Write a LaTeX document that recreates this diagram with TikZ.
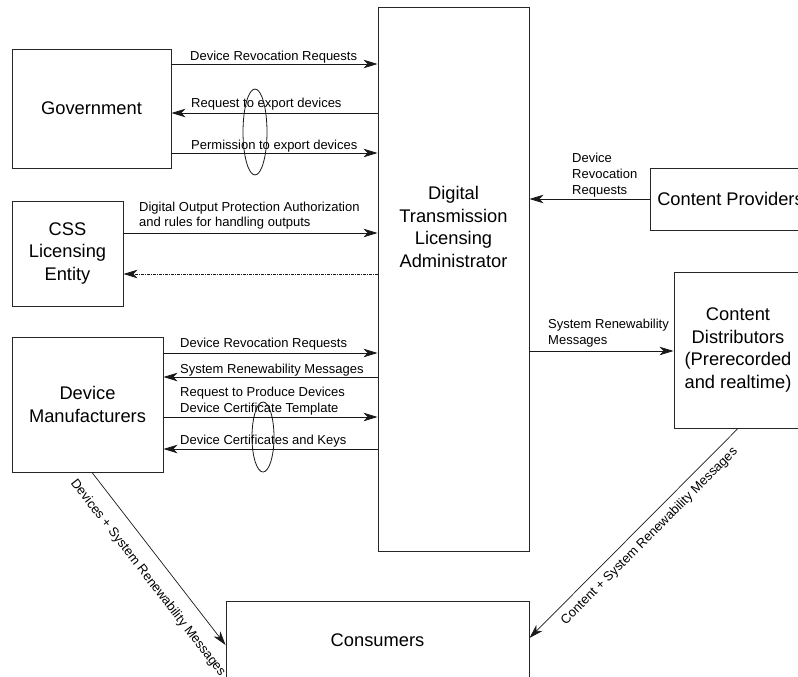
\documentclass[tikz,border=0pt]{standalone}
\usepackage{fontspec}
\setmainfont{Liberation Sans}
\usetikzlibrary{arrows.meta}
\newcommand\boxfont{\fontsize{18.3}{22.5}\selectfont}
\newcommand\lblfont{\fontsize{13}{15.75}\selectfont}
\tikzset{
  box/.style={draw=black!85, line width=0.9pt, align=center, font=\boxfont, inner sep=0pt},
  lbl/.style={font=\lblfont, inner sep=0pt, align=left},
  arr/.style={draw=black!90, line width=0.8pt, -{Stealth[length=14pt,width=8.5pt,inset=4pt]}},
  dotarr/.style={arr, dash pattern=on 3pt off 1pt on 1pt off 1pt},
  grp/.style={draw=black!90, line width=0.8pt},
}
\begin{document}
\begin{tikzpicture}[x=1pt,y=-1pt]
\useasboundingbox (0,0) rectangle (798,677);
\clip (0,0) rectangle (798,677);
% boxes
\node[box, minimum width=159pt, minimum height=119pt] (gov) at (91.5,108.5) {Government};
\node[box, minimum width=111pt, minimum height=105pt] (css) at (67.5,253.5) {CSS\\Licensing\\Entity};
\node[box, minimum width=151pt, minimum height=135pt] (devman) at (87.5,404.5) {Device\\Manufacturers};
\node[box, minimum width=151pt, minimum height=544pt] (dtla) at (453.5,279) {};
\node[font=\boxfont, align=center, inner sep=0pt] (dtlatxt) at (453.5,227) {Digital\\Transmission\\Licensing\\Administrator};
\node[box, minimum width=161pt, minimum height=62pt] (cp) at (730.5,199) {Content Providers};
\node[box, minimum width=128pt, minimum height=156pt] (cdist) at (738,350) {Content\\Distributors\\(Prerecorded\\and realtime)};
\node[box, minimum width=303pt, minimum height=78pt] (cons) at (377.5,640) {Consumers};

% Government arrows
\draw[arr] (gov.east |- 0,64) -- (dtla.west |- 0,64);
\node[lbl, anchor=base west] (l1) at (190,60) {Device Revocation Requests};
\draw[arr] (dtla.west |- 0,113) -- (gov.east |- 0,113);
\node[lbl, anchor=base west] (l2) at (191,107) {Request to export devices};
\draw[arr] (gov.east |- 0,153) -- (dtla.west |- 0,153);
\node[lbl, anchor=base west] (l3) at (191,149.5) {Permission to export devices};
\draw[grp] (255,132) ellipse [x radius=12pt, y radius=43pt];

% CSS arrows
\draw[arr] (css.east |- 0,233) -- (dtla.west |- 0,233);
\node[lbl, anchor=north west, font=\fontsize{13}{15}\selectfont] (l4) at (139,201.5) {Digital Output Protection Authorization\\and rules for handling outputs};
\draw[dotarr] (dtla.west |- 0,274) -- (css.east |- 0,274);

% Device manufacturers arrows
\draw[arr] (devman.east |- 0,353) -- (dtla.west |- 0,353);
\node[lbl, anchor=base west] (l5) at (180,347.5) {Device Revocation Requests};
\draw[arr] (dtla.west |- 0,377) -- (devman.east |- 0,377);
\node[lbl, anchor=base west] (l6) at (180,373) {System Renewability Messages};
\draw[arr] (devman.east |- 0,417) -- (dtla.west |- 0,417);
\node[lbl, anchor=north west, font=\fontsize{13}{16}\selectfont] (l7) at (180,387) {Request to Produce Devices\\Device Certificate Template};
\draw[arr] (dtla.west |- 0,449) -- (devman.east |- 0,449);
\node[lbl, anchor=base west] (l8) at (180,444.5) {Device Certificates and Keys};
\draw[grp] (263,437) ellipse [x radius=11pt, y radius=35pt];

% Content providers
\draw[arr] (cp.west) -- (dtla.east |- cp.west);
\node[lbl, anchor=north west, font=\fontsize{13}{16}\selectfont] (l9) at (572,152.5) {Device\\Revocation\\Requests};

% Content distributors
\draw[arr] (dtla.east |- 0,351) -- (cdist.west |- 0,351);
\node[lbl, anchor=north west, font=\fontsize{13}{15.5}\selectfont] (l10) at (548,319) {System Renewability\\Messages};

% diagonals
\draw[arr, line width=0.7pt] (devman.south -| 92,0) -- (cons.west |- 0,645)
  node[lbl, sloped, below, pos=0.54, inner ysep=14pt] (l11) {Devices + System Renewability Messages};
\draw[arr, line width=0.7pt] (cdist.south -| 738,0) -- (cons.east |- 0,638)
  node[lbl, sloped, below, pos=0.47, inner ysep=7pt] (l12) {Content + System Renewability Messages};
\end{tikzpicture}
\end{document}
